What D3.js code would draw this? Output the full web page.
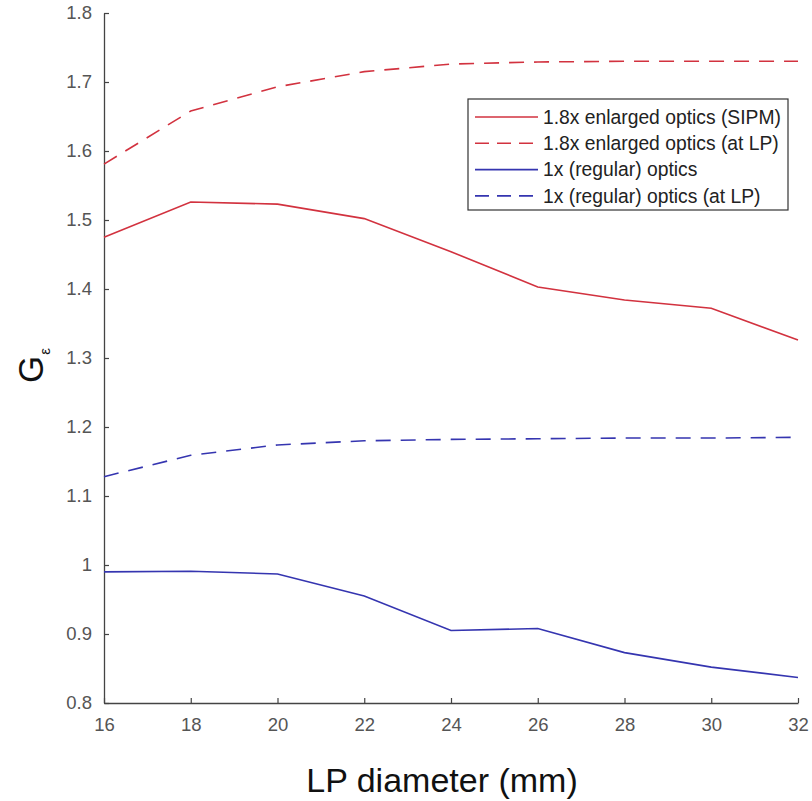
<!DOCTYPE html>
<html>
<head>
<meta charset="utf-8">
<script src="https://cdn.jsdelivr.net/npm/d3@7"></script>
<style>
	body { margin: 0; background: #fff; }
	svg { font-family: "Liberation Sans", Arial, sans-serif; }
</style>
</head>
<body>
<svg id="chart" width="812" height="801"></svg>
<script>
"use strict";

// LP diameter (mm)
var diameters = [16, 18, 20, 22, 24, 26, 28, 30, 32];

// G_e values
var enlargedSipm = [1.475, 1.526, 1.523, 1.502, 1.454, 1.403, 1.384, 1.372, 1.326];
var enlargedLp = [1.581, 1.658, 1.693, 1.715, 1.726, 1.729, 1.730, 1.730, 1.730];
var regularSipm = [0.990, 0.991, 0.987, 0.955, 0.905, 0.908, 0.873, 0.852, 0.837];
var regularLp = [1.128, 1.159, 1.174, 1.180, 1.182, 1.183, 1.184, 1.184, 1.185];

var seriesNames = ['1.8x enlarged optics (SIPM)', '1.8x enlarged optics (at LP)',
	'1x (regular) optics', '1x (regular) optics (at LP)'];

var xTicks = [16, 18, 20, 22, 24, 26, 28, 30, 32];
var yTicks = [0.8, 0.9, 1, 1.1, 1.2, 1.3, 1.4, 1.5, 1.6, 1.7, 1.8];

var RED = '#d2323f', BLUE = '#3535b0';

var series = [
	{name: seriesNames[0], vals: enlargedSipm, color: RED, dash: null},
	{name: seriesNames[1], vals: enlargedLp, color: RED, dash: '15,10'},
	{name: seriesNames[2], vals: regularSipm, color: BLUE, dash: null},
	{name: seriesNames[3], vals: regularLp, color: BLUE, dash: '15,10'}
];

var svg = d3.select('#chart');
var m = {l: 104, t: 13, r: 14, b: 98};
var w = 812 - m.l - m.r, h = 801 - m.t - m.b;

var x = d3.scaleLinear().domain([16, 32]).range([0, w]);
var y = d3.scaleLinear().domain([0.8, 1.8]).range([h, 0]);

var g = svg.append('g').attr('transform', 'translate(' + m.l + ',' + m.t + ')');

// Axes (ticks pointing inward)
var xAxis = g.append('g').attr('transform', 'translate(0,' + h + ')')
	.call(d3.axisBottom(x).tickValues(xTicks).tickSizeInner(-5).tickSizeOuter(0).tickPadding(15)
		.tickFormat(d3.format('d')));
var yAxis = g.append('g')
	.call(d3.axisLeft(y).tickValues(yTicks).tickSizeInner(-5).tickSizeOuter(0).tickPadding(12)
		.tickFormat(function(d) { return d === 1 ? '1' : d3.format('.1f')(d); }));

[xAxis, yAxis].forEach(function(a) {
	a.select('.domain').attr('stroke', '#444').attr('stroke-width', 1.3);
	a.selectAll('.tick line').attr('stroke', '#444').attr('stroke-width', 1.2);
	a.selectAll('.tick text').attr('fill', '#555').style('font-size', '18.5px');
});
xAxis.selectAll('.tick text').attr('dy', '0.71em');

// Lines
var line = d3.line()
	.x(function(d, i) { return x(diameters[i]); })
	.y(function(d) { return y(d); });

series.forEach(function(s) {
	g.append('path').datum(s.vals)
		.attr('fill', 'none')
		.attr('stroke', s.color)
		.attr('stroke-width', 1.6)
		.attr('stroke-dasharray', s.dash)
		.attr('d', line);
});

// Axis titles
svg.append('text')
	.attr('x', 442).attr('y', 792)
	.attr('text-anchor', 'middle')
	.attr('fill', '#111')
	.style('font-size', '34px')
	.text('LP diameter (mm)');

var yl = svg.append('text')
	.attr('transform', 'translate(43,383) rotate(-90)')
	.attr('fill', '#111')
	.style('font-size', '35px');
yl.append('tspan').text('G');
yl.append('tspan').attr('dy', '7').attr('dx', '1').style('font-size', '15px').text('\u03b5');

// Legend
var lg = svg.append('g').attr('transform', 'translate(468,99)');
lg.append('rect').attr('width', 320).attr('height', 111)
	.attr('fill', '#fff').attr('stroke', '#333').attr('stroke-width', 1.2);

series.forEach(function(s, i) {
	var ly = 18 + i * 26.3;
	lg.append('line').attr('x1', 7).attr('x2', 70).attr('y1', ly).attr('y2', ly)
		.attr('stroke', s.color).attr('stroke-width', 1.6)
		.attr('stroke-dasharray', s.dash ? '14,8' : null);
	lg.append('text').attr('x', 75).attr('y', ly).attr('dy', '0.35em')
		.attr('fill', '#222').style('font-size', '19.3px').text(s.name);
});
</script>
</body>
</html>
